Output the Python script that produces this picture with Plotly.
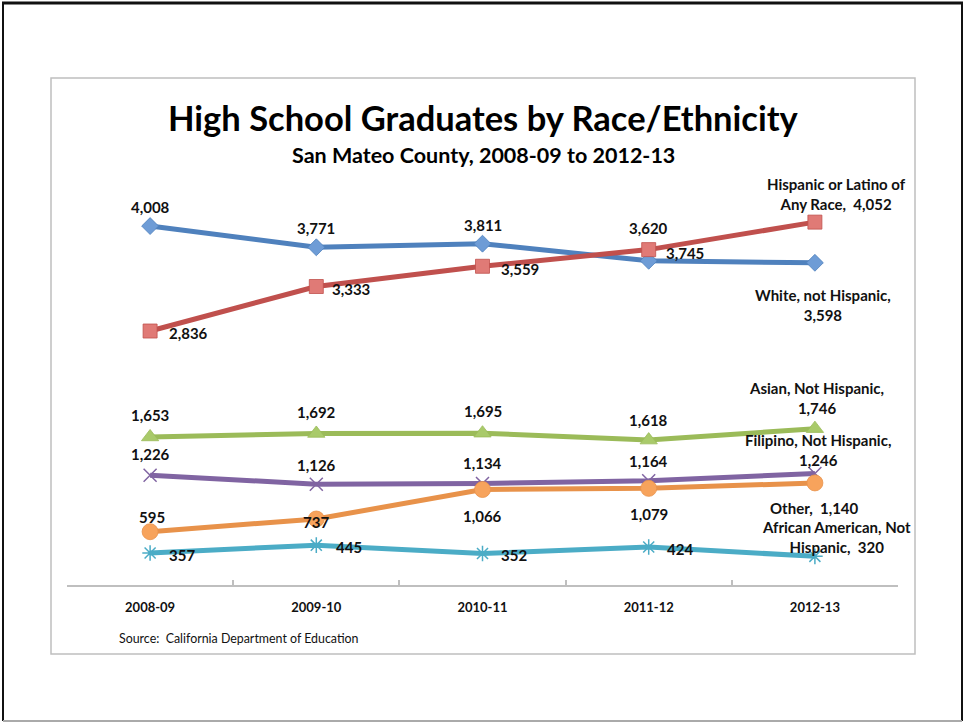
import plotly.graph_objects as go

W, H = 965, 723

categories = ["2008-09", "2009-10", "2010-11", "2011-12", "2012-13"]
white = [4008, 3771, 3811, 3620, 3598]
hispanic = [2836, 3333, 3559, 3745, 4052]
asian = [1653, 1692, 1695, 1618, 1746]
filipino = [1226, 1126, 1134, 1164, 1246]
other = [595, 737, 1066, 1079, 1140]
african_american = [357, 445, 352, 424, 320]

xs = list(range(len(categories)))

FONT = "Lato"

series = [
    # name, values, line color, marker symbol, marker fill, marker line, size
    ("White, not Hispanic", white, "#4F81BD", "diamond", "#6E9CD6", "#4F81BD", 13),
    ("Hispanic or Latino of Any Race", hispanic, "#C0504D", "square", "#E07A76", "#C0504D", 14),
    ("Asian, Not Hispanic", asian, "#9BBB59", "triangle-up", "#A9CA6A", "#9BBB59", 15),
    ("Filipino, Not Hispanic", filipino, "#8064A2", "x-thin-open", "#8064A2", "#8064A2", 13),
    ("Other", other, "#E8924A", "circle", "#F7A35C", "#E8924A", 16),
    ("African American, Not Hispanic", african_american, "#4BACC6", "asterisk-open", "#4BACC6", "#4BACC6", 13),
]

fig = go.Figure()
for name, vals, lc, sym, fill, mline, size in series:
    lw = 1.5 if "open" in sym else 0.8
    fig.add_trace(go.Scatter(
        x=xs, y=vals, mode="lines+markers", name=name,
        line=dict(color=lc, width=5),
        marker=dict(symbol=sym, size=size, color=fill, line=dict(color=mline, width=lw)),
        showlegend=False, hoverinfo="skip",
    ))

def fmt(v):
    return f"{v:,}"

# label offsets (xshift, yshift) in pixels relative to the data point
label_specs = [
    (white, [(0, 19), (0, 19), (0, 19), (0, 33)], "White, not Hispanic,<br>{}", (8, -42)),
    (hispanic, [(38, -2), (35, -2), (37, -3), (36, -3)], "Hispanic or Latino of<br>Any Race,  {}", (22, 28)),
    (asian, [(0, 22), (0, 21), (0, 22), (0, 20)], "Asian, Not Hispanic,<br>{}", (2, 31)),
    (filipino, [(0, 21), (0, 19), (0, 20), (0, 20)], "Filipino, Not Hispanic,<br>{}", (3, 23)),
    (other, [(2, 15), (0, -3), (0, -26), (0, -26)], "Other,  {}", (0, -25)),
    (african_american, [(32, -2), (33, -2), (31, -2), (31, -2)], "African American, Not<br>Hispanic,  {}", (22, 19)),
]

annotations = []
for vals, offs, last_fmt, last_off in label_specs:
    for i, (dx, dy) in enumerate(offs):
        annotations.append(dict(
            x=xs[i], y=vals[i], xref="x", yref="y", text=fmt(vals[i]),
            showarrow=False, xshift=dx, yshift=dy,
            font=dict(family=FONT, size=15, color="#111111", weight="bold"),
        ))
    i = len(vals) - 1
    annotations.append(dict(
        x=xs[i], y=vals[i], xref="x", yref="y", text=last_fmt.format(fmt(vals[i])),
        showarrow=False, xshift=last_off[0], yshift=last_off[1], align="center",
        font=dict(family=FONT, size=15, color="#111111", weight="bold"),
    ))

def px(x):
    return x / W

def py(y):
    return 1 - y / H

annotations += [
    dict(x=px(484), y=py(118), xref="paper", yref="paper", text="High School Graduates by Race/Ethnicity",
         showarrow=False, xanchor="center", yanchor="middle",
         font=dict(family=FONT, size=34.5, color="#000000", weight="bold")),
    dict(x=px(484), y=py(155), xref="paper", yref="paper", text="San Mateo County, 2008-09 to 2012-13",
         showarrow=False, xanchor="center", yanchor="middle",
         font=dict(family=FONT, size=21.5, color="#000000", weight="bold")),
    dict(x=px(117), y=py(638), xref="paper", yref="paper", text="Source:  California Department of Education",
         showarrow=False, xanchor="left", yanchor="middle",
         font=dict(family=FONT, size=12.4, color="#111111")),
]

shapes = [
    # inner chart frame
    dict(type="rect", xref="paper", yref="paper", x0=px(51), x1=px(915), y0=py(654), y1=py(78),
         line=dict(color="#BFBFBF", width=1.5), layer="below"),
    # outer slide frame
    dict(type="line", xref="paper", yref="paper", x0=px(2), x1=px(963), y0=py(3), y1=py(3),
         line=dict(color="#111111", width=3)),
    dict(type="line", xref="paper", yref="paper", x0=px(3), x1=px(3), y0=py(3), y1=py(721),
         line=dict(color="#111111", width=2)),
    dict(type="line", xref="paper", yref="paper", x0=px(962), x1=px(962), y0=py(3), y1=py(721),
         line=dict(color="#111111", width=2)),
    dict(type="line", xref="paper", yref="paper", x0=px(3), x1=px(962), y0=py(721), y1=py(721),
         line=dict(color="#AAAAAA", width=2)),
]

x_dom = [67 / W, 898 / W]
y_dom = [1 - 585 / H, 1 - 182 / H]

fig.update_layout(
    width=W, height=H,
    margin=dict(l=0, r=0, t=0, b=0),
    paper_bgcolor="white", plot_bgcolor="rgba(0,0,0,0)",
    xaxis=dict(domain=x_dom, range=[-0.5, len(categories) - 0.5], tickvals=xs, ticktext=categories,
               showline=True, linecolor="#BFBFBF", linewidth=1.5, ticks="", showgrid=False,
               zeroline=False, layer="below traces", ticklabelstandoff=10,
               tickfont=dict(family=FONT, size=13, color="#111111", weight="bold")),
    xaxis2=dict(domain=x_dom, range=[-0.5, len(categories) - 0.5], overlaying="x", side="bottom",
                tickvals=[i - 0.5 for i in range(len(categories) + 1)], ticks="inside", ticklen=5,
                tickcolor="#BFBFBF", tickwidth=1.5, showticklabels=False, showgrid=False,
                showline=False, zeroline=False, anchor="y", layer="below traces"),
    yaxis=dict(domain=y_dom, range=[0, 4500], visible=False, showgrid=False, zeroline=False),
    annotations=annotations,
    shapes=shapes,
)

# a dummy invisible trace to activate xaxis2
fig.add_trace(go.Scatter(x=[0], y=[0], xaxis="x2", yaxis="y", mode="markers",
                         marker=dict(opacity=0), showlegend=False, hoverinfo="skip"))

fig.write_html("out.html", config={"displayModeBar": False},
               post_script="document.body.style.margin='0';document.body.style.overflow='hidden';")
